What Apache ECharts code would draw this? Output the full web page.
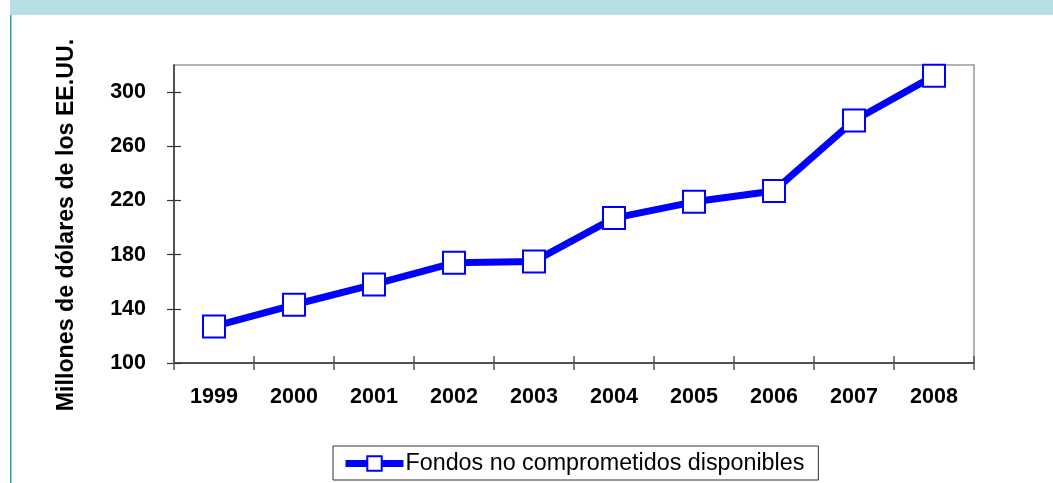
<!DOCTYPE html>
<html>
<head>
<meta charset="utf-8">
<script src="https://cdn.jsdelivr.net/npm/echarts@6/dist/echarts.min.js"></script>
<style>
  html, body { margin: 0; padding: 0; background: #fff; }
  #chart { width: 1053px; height: 483px; }
</style>
</head>
<body>
<div id="chart"></div>
<script>
// data
const years = ['1999', '2000', '2001', '2002', '2003', '2004', '2005', '2006', '2007', '2008'];
const fondos = [127, 143, 158, 174, 175, 207, 219, 227, 279, 312];
const yTicks = [100, 140, 180, 220, 260, 300];
const seriesName = 'Fondos no comprometidos disponibles';
const yName = 'Millones de dólares de los EE.UU.';

const chart = echarts.init(document.getElementById('chart'));

const labelFont = {
  fontFamily: 'Liberation Sans, Arial, sans-serif',
  fontWeight: 'bold',
  fontSize: 21.5,
  color: '#000',
};

chart.setOption({
  animation: false,
  graphic: [
    // band at the top and left border of the page frame
    { type: 'rect', shape: { x: 10, y: 0, width: 1043, height: 15 }, style: { fill: '#b7dfe3' } },
    { type: 'rect', shape: { x: 10, y: 15, width: 1.5, height: 468 }, style: { fill: '#2a9fa8' } },
  ],
  grid: {
    left: 174,
    right: 79,
    top: 65,
    bottom: 120,
    show: true,
    borderColor: '#999',
    borderWidth: 1.5,
    backgroundColor: 'transparent',
  },
  legend: {
    left: 333,
    bottom: 3,
    data: [seriesName],
    itemWidth: 58,
    itemHeight: 18,
    padding: [6, 14, 5, 9],
    borderColor: '#333',
    borderWidth: 1,
    borderRadius: 0,
    lineStyle: { width: 7 },
    textStyle: {
      fontFamily: 'Liberation Sans, Arial, sans-serif',
      fontSize: 23.3,
      color: '#000',
      padding: [0, 0, 0, -3],
    },
  },
  xAxis: [
    {
      type: 'category',
      data: years,
      boundaryGap: true,
      axisLine: { lineStyle: { color: '#333', width: 1.5 } },
      axisTick: { show: true, length: 7, lineStyle: { color: '#555', width: 1.5 } },
      axisLabel: Object.assign({ margin: 23 }, labelFont),
    },
    {
      type: 'category',
      data: years,
      position: 'bottom',
      boundaryGap: true,
      axisLine: { show: false },
      axisTick: { show: true, inside: true, length: 7, lineStyle: { color: '#555', width: 1.5 } },
      axisLabel: { show: false },
    },
  ],
  yAxis: [
    {
      type: 'value',
      min: 100,
      max: 320,
      name: yName,
      nameLocation: 'middle',
      nameGap: 96,
      nameTextStyle: {
        fontFamily: 'Liberation Sans, Arial, sans-serif',
        fontWeight: 'bold',
        fontSize: 23.2,
        color: '#000',
        padding: [0, 22, 0, 0],
      },
      axisLine: { show: true, lineStyle: { color: '#333', width: 1.5 } },
      axisTick: { show: true, length: 7, customValues: yTicks, lineStyle: { color: '#333', width: 1.2 } },
      axisLabel: Object.assign({ margin: 28, customValues: yTicks }, labelFont),
      splitLine: { show: false },
    },
    {
      type: 'value',
      min: 100,
      max: 320,
      position: 'left',
      axisLine: { show: false },
      axisTick: { show: true, inside: true, length: 7, customValues: yTicks, lineStyle: { color: '#333', width: 1.2 } },
      axisLabel: { show: false },
      splitLine: { show: false },
    },
  ],
  series: [
    {
      name: seriesName,
      type: 'line',
      data: fondos,
      symbol: 'rect',
      symbolSize: 22,
      lineStyle: { color: '#0000ff', width: 7 },
      itemStyle: { color: '#fff', borderColor: '#0000ff', borderWidth: 2 },
      emphasis: { disabled: true },
    },
  ],
});
</script>
</body>
</html>
